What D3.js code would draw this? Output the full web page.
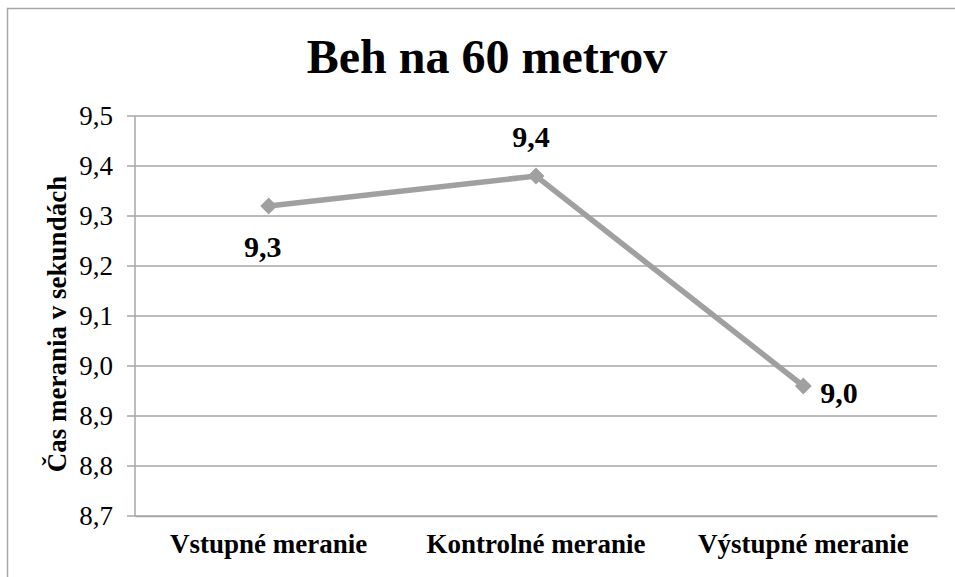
<!DOCTYPE html>
<html>
<head>
<meta charset="utf-8">
<script src="https://cdn.jsdelivr.net/npm/d3@7"></script>
<style>
  body { margin: 0; background: #fff; }
  text { font-family: "Liberation Serif", "Times New Roman", serif; }
</style>
</head>
<body>
<svg id="chart"></svg>
<script>
// data
const categories = ['Vstupné meranie', 'Kontrolné meranie', 'Výstupné meranie'];
const values = [9.32, 9.38, 8.96];
const valueLabels = ['9,3', '9,4', '9,0'];
const labelPos = ['below', 'above', 'right'];
const yTicks = [8.7, 8.8, 8.9, 9.0, 9.1, 9.2, 9.3, 9.4, 9.5];

const serif = '"Liberation Serif", "Times New Roman", serif';
const width = 955, height = 577;
const margin = { top: 116, right: 18, bottom: 61, left: 135 };
const innerW = width - margin.left - margin.right;
const innerH = height - margin.top - margin.bottom;

const svg = d3.select('#chart')
    .attr('width', width)
    .attr('height', height)
    .attr('font-family', serif);

// outer frame
svg.append('rect')
    .attr('x', 7.5).attr('y', 8.5)
    .attr('width', width + 10).attr('height', height + 10)
    .attr('fill', 'none')
    .attr('stroke', '#a6a6a6')
    .attr('stroke-width', 1.5);

const chart = svg.append('g')
    .attr('transform', `translate(${margin.left}, ${margin.top})`);

const xscale = d3.scaleBand()
    .domain(categories)
    .range([0, innerW]);

const yscale = d3.scaleLinear()
    .domain([8.7, 9.5])
    .range([innerH, 0]);

// gridlines
chart.append('g')
    .selectAll('line')
    .data(yTicks)
    .join('line')
    .attr('x1', -8)
    .attr('x2', innerW)
    .attr('y1', d => yscale(d))
    .attr('y2', d => yscale(d))
    .attr('stroke', '#a6a6a6')
    .attr('stroke-width', 1.5);

// y axis
const yaxis = d3.axisLeft(yscale)
    .tickValues(yTicks)
    .tickSize(0)
    .tickPadding(22)
    .tickFormat(d => d3.format('.1f')(d).replace('.', ','));

const yaxisGroup = chart.append('g').call(yaxis)
    .attr('font-family', serif);
yaxisGroup.select('.domain').remove();
yaxisGroup.selectAll('text')
    .style('font-size', '27px')
    .attr('fill', '#000');

chart.append('line')
    .attr('x1', 0).attr('x2', 0)
    .attr('y1', 0).attr('y2', innerH)
    .attr('stroke', '#a6a6a6')
    .attr('stroke-width', 1.5);

// x axis
const xaxis = d3.axisBottom(xscale)
    .tickSize(0)
    .tickPadding(18);

const xaxisGroup = chart.append('g')
    .attr('transform', `translate(0, ${innerH})`)
    .call(xaxis)
    .attr('font-family', serif);
xaxisGroup.select('.domain')
    .attr('stroke', '#a6a6a6')
    .attr('stroke-width', 1.5);
xaxisGroup.selectAll('text')
    .style('font-size', '27px')
    .style('font-weight', 'bold')
    .attr('fill', '#000');

// line
const xpos = d => xscale(d) + xscale.bandwidth() / 2;
const line = d3.line()
    .x((d, i) => xpos(categories[i]))
    .y(d => yscale(d));

chart.append('path')
    .attr('d', line(values))
    .attr('fill', 'none')
    .attr('stroke', '#a0a0a0')
    .attr('stroke-width', 5.5);

chart.selectAll('.marker')
    .data(values)
    .join('path')
    .attr('class', 'marker')
    .attr('d', d3.symbol(d3.symbolDiamond2, 180)())
    .attr('transform', (d, i) => `translate(${xpos(categories[i])}, ${yscale(d)})`)
    .attr('fill', '#a0a0a0');

// data labels
const dx = { below: -6, above: -5, right: 17 };
const dy = { below: 51, above: -29, right: 17 };
chart.selectAll('.vlabel')
    .data(values)
    .join('text')
    .attr('class', 'vlabel')
    .attr('x', (d, i) => xpos(categories[i]) + dx[labelPos[i]])
    .attr('y', (d, i) => yscale(d) + dy[labelPos[i]])
    .attr('text-anchor', (d, i) => labelPos[i] === 'right' ? 'start' : 'middle')
    .style('font-size', '30px')
    .style('font-weight', 'bold')
    .text((d, i) => valueLabels[i]);

// title
svg.append('text')
    .attr('x', 487)
    .attr('y', 73)
    .attr('text-anchor', 'middle')
    .style('font-size', '48px')
    .style('font-weight', 'bold')
    .text('Beh na 60 metrov');

// y label
svg.append('text')
    .attr('transform', `translate(66, ${margin.top + innerH / 2 + 8}) rotate(-90)`)
    .attr('text-anchor', 'middle')
    .style('font-size', '27px')
    .style('font-weight', 'bold')
    .text('Čas merania v sekundách');
</script>
</body>
</html>
